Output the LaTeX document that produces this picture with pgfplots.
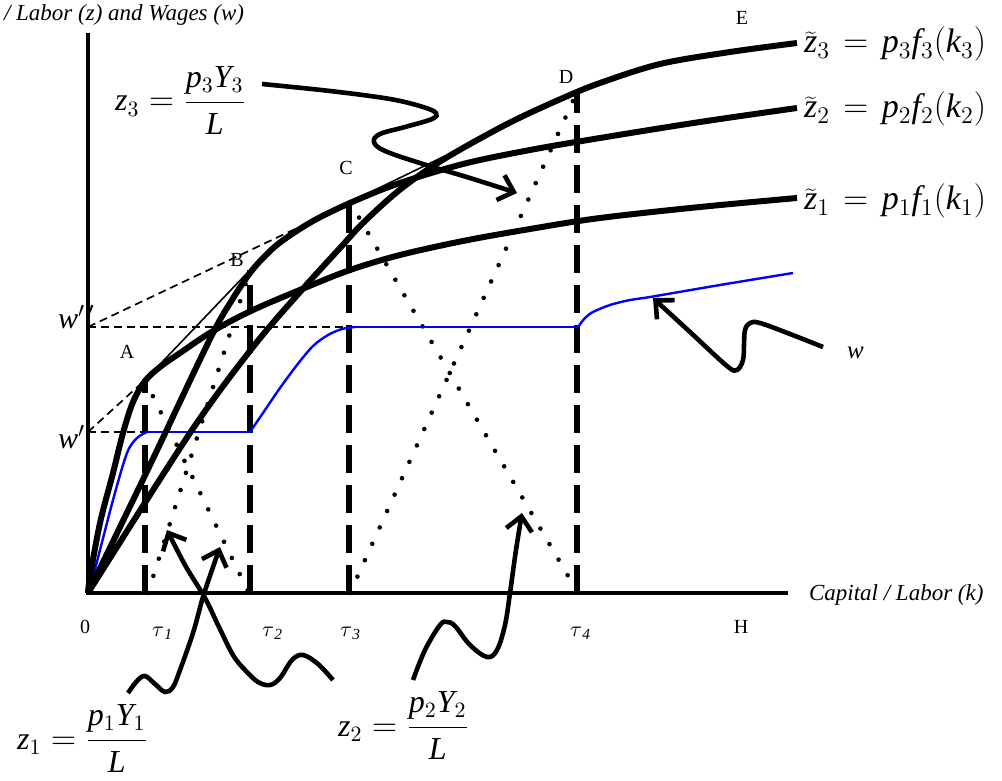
\documentclass[border=0pt]{standalone}
\usepackage{fontspec}
\setmainfont{Liberation Serif}
\usepackage{pgfplots}
\pgfplotsset{compat=1.18}
\usetikzlibrary{arrows.meta}

\tikzset{
  thickcurve/.style={line width=3pt, smooth, tension=0.55},
  thindash/.style={line width=0.85pt, dash pattern=on 4pt off 2.5pt},
  thinline/.style={line width=0.8pt},
  dotline/.style={line width=2.3pt, line cap=round, dash pattern=on 0pt off 9pt},
  tau/.style={line width=2.6pt, dash pattern=on 14pt off 6pt},
  wage/.style={line width=1.2pt, blue},
  squiggle/.style={line width=2.3pt, smooth, tension=0.6,
    -{Straight Barb[length=7pt,width=13pt,line width=2.3pt]}},
  lbl/.style={font=\fontsize{10}{12}\selectfont},
  ital/.style={font=\fontsize{11.5}{13}\selectfont\itshape},
  eq/.style={font=\fontsize{16}{19}\selectfont},
  eqz/.style={font=\fontsize{17}{20}\selectfont},
}
% output-value label with a wide tilde
\newcommand{\zlab}[1]{$\widetilde{\mathit{z}}_{#1} \mkern2mu=\mkern2mu \mathit{p}_{#1}\mathit{f}_{#1}(\mathit{k}_{#1})$}

\begin{document}
\begin{tikzpicture}
\useasboundingbox (0,0) rectangle (501pt,390.5pt);
\begin{axis}[
  at={(0,0)}, anchor=south west,
  scale only axis, width=501pt, height=390.5pt,
  xmin=0, xmax=1002, ymin=0, ymax=781, y dir=reverse,
  axis lines=none, clip=false,
  every axis plot/.append style={no marks},
]
% wage reference lines and tangents
\addplot[thindash] coordinates {(88,432) (145,380)};
\addplot[thindash] coordinates {(88,432) (147,432)};
\addplot[thindash] coordinates {(88,327) (350,203)};
\addplot[thindash] coordinates {(88,327) (352,327)};
\addplot[thinline] coordinates {(145,380) (250,270)};
\addplot[thinline] coordinates {(350,202) (577,92)};

% output per worker of each good inside the cones
\addplot[dotline] coordinates {(145,380) (249,593)};
\addplot[dotline] coordinates {(148,593) (250,270)};
\addplot[dotline] coordinates {(350,202) (578,593)};
\addplot[dotline] coordinates {(350,593) (577,92)};

% cone boundaries
\addplot[tau] coordinates {(145,593) (145,380)};
\addplot[tau] coordinates {(250,593) (250,270)};
\addplot[tau] coordinates {(349,593) (349,202)};
\addplot[tau] coordinates {(577,593) (577,92)};

% wage schedule
\addplot[wage, smooth, tension=0.5] coordinates {(88,593) (93,577) (113,500) (127,453) (137,438) (147,432)};
\addplot[wage] coordinates {(147,432) (250,432)};
\addplot[wage, smooth, tension=0.5] coordinates {(250,432) (265,410) (280,388) (297,365) (313,346) (328,335) (342,329) (355,327)};
\addplot[wage] coordinates {(355,327) (578,327)};
\addplot[wage, smooth, tension=0.5] coordinates {(578,327) (585,318) (593,312) (610,305) (630,300) (650,297) (720,285) (793,273)};

% value of output per worker
\addplot[thickcurve] coordinates {(88,593) (90,577) (100,523) (113,473) (123,433) (133,402) (145,381) (160,367) (180,353) (213,331) (253,310) (307,287) (350,270) (400,255) (463,241) (530,229) (600,218) (700,207) (797,198)};
\addplot[thickcurve] coordinates {(88,593) (150,465) (210,339) (232,300) (250,273) (265,256) (282,241) (313,221) (350,203) (397,184) (463,164) (530,150) (600,138) (700,122) (797,108)};
\addplot[thickcurve] coordinates {(88,593) (190,433) (253,347) (300,292) (340,248) (363,223) (397,192) (430,168) (463,148) (513,121) (563,98) (600,83) (660,64) (730,52) (797,43)};

% axes
\addplot[line width=2.2pt] coordinates {(88,33) (88,593) (788,593)};

% pointers
\addplot[squiggle] coordinates {(262,84) (330,91) (390,99) (423,107) (436,113) (432,119) (405,127) (380,134) (374,142) (385,151) (423,164) (470,178) (517,193)};
\addplot[squiggle] coordinates {(128,693) (137,681) (145,676) (155,684) (165,692) (173,687) (180,670) (193,633) (203,597) (212,570) (220,547)};
\addplot[squiggle] coordinates {(333,680) (318,664) (303,655) (292,660) (280,678) (270,685) (258,682) (245,670) (233,655) (218,625) (205,598) (185,565) (167,530)};
\addplot[squiggle] coordinates {(413,680) (425,650) (440,625) (447,622) (455,626) (470,645) (487,657) (497,650) (505,625) (510,593) (516,550) (522,513)};
\addplot[squiggle] coordinates {(823,347) (790,334) (760,323) (750,323) (745,330) (744,345) (743,360) (737,370) (727,366) (690,332) (653,298)};

% text
\node[ital, anchor=base west] at (axis cs:-3,21) {/ Labor (z) and Wages (w)};
\node[ital, anchor=base west] at (axis cs:802,600) {Capital / Labor (k)};
\node[lbl] at (axis cs:85,627) {0};
\node[lbl] at (axis cs:741,627) {H};
\node[lbl] at (axis cs:127,352) {A};
\node[lbl] at (axis cs:237,260) {B};
\node[lbl] at (axis cs:346,168) {C};
\node[lbl] at (axis cs:566,77) {D};
\node[lbl] at (axis cs:742,18) {E};
\node[anchor=base west, font=\fontsize{11}{13}\selectfont] at (axis cs:145,636) {$\tau_{\,\mathit{1}}$};
\node[anchor=base west, font=\fontsize{11}{13}\selectfont] at (axis cs:255,636) {$\tau_{\,\mathit{2}}$};
\node[anchor=base west, font=\fontsize{11}{13}\selectfont] at (axis cs:333,636) {$\tau_{\,\mathit{3}}$};
\node[anchor=base west, font=\fontsize{11}{13}\selectfont] at (axis cs:563,636) {$\tau_{\,\mathit{4}}$};
\node[anchor=base west, font=\fontsize{15}{18}\selectfont] at (axis cs:51,328) {$\mathit{w}^{\prime\,\prime}$};
\node[anchor=base west, font=\fontsize{15}{18}\selectfont] at (axis cs:51,448) {$\mathit{w}^{\prime}$};
\node[anchor=base west, font=\fontsize{12.5}{15}\selectfont] at (axis cs:840,358) {$\mathit{w}$};
\node[eqz, anchor=base west] at (axis cs:797,53) {\zlab{3}};
\node[eqz, anchor=base west] at (axis cs:797,118) {\zlab{2}};
\node[eqz, anchor=base west] at (axis cs:797,210) {\zlab{1}};
\node[eq, anchor=base west] at (axis cs:108,111) {$\displaystyle \mathit{z}_3 = \frac{\mathit{p}_3\mathit{Y}_3}{\mathit{L}}$};
\node[eq, anchor=base west] at (axis cs:10,749) {$\displaystyle \mathit{z}_1 = \frac{\mathit{p}_1\mathit{Y}_1}{\mathit{L}}$};
\node[eq, anchor=base west] at (axis cs:331,736) {$\displaystyle \mathit{z}_2 = \frac{\mathit{p}_2\mathit{Y}_2}{\mathit{L}}$};
\end{axis}
\end{tikzpicture}
\end{document}
